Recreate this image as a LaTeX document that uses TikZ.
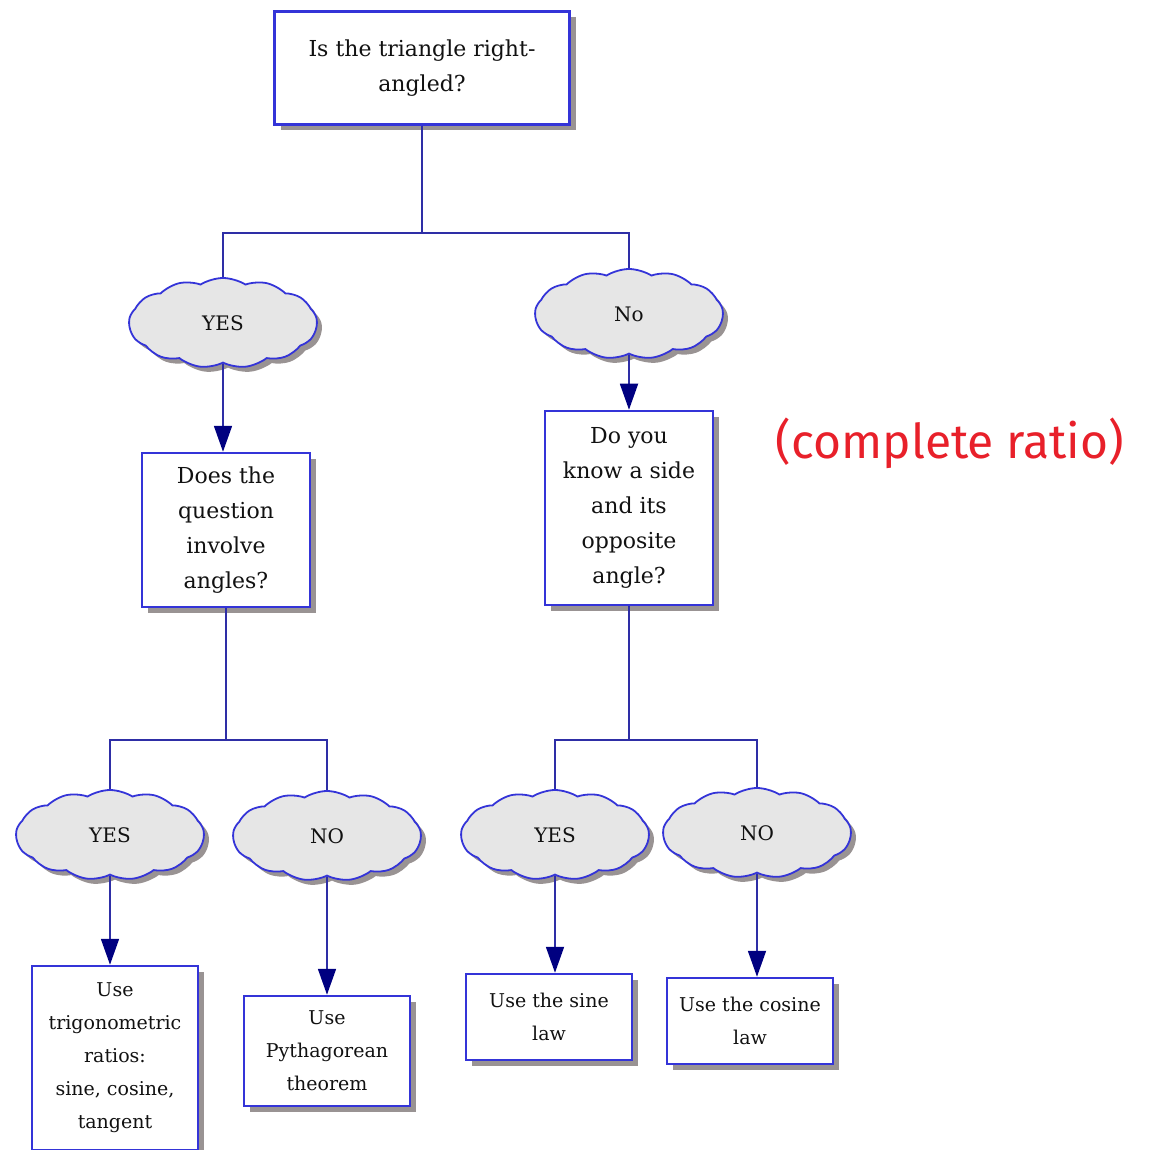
\documentclass[tikz,border=0pt]{standalone}
\usepackage{fontspec}
\setmainfont{DejaVu Serif}
\newfontfamily\handfont{Fira Sans}
\usepackage{tikz}
\usetikzlibrary{positioning, arrows.meta, shapes.symbols, shadows}
\definecolor{fLine}{HTML}{2E2EA6}
\definecolor{fBorder}{HTML}{3434D8}
\definecolor{fTip}{HTML}{000080}
\definecolor{fCloud}{HTML}{E6E6E6}
\definecolor{fShadow}{HTML}{807878}
\definecolor{fInk}{HTML}{111111}
\definecolor{fRed}{HTML}{E8202A}

\begin{document}
\begin{tikzpicture}[x=1pt, y=-1pt,
          qbox/.style={draw=fBorder, line width=2.5pt, fill=white, text=fInk, align=center,
            inner sep=0pt, font=\fontsize{22}{35}\selectfont,
            drop shadow={shadow xshift=6pt, shadow yshift=-6pt, fill=fShadow, opacity=0.8}},
          abox/.style={qbox, font=\fontsize{19}{33}\selectfont, minimum width=166pt},
          ans/.style={cloud, cloud puffs=13, cloud puff arc=65, draw=fBorder, line width=1.8pt,
            fill=fCloud, text=fInk, inner sep=0pt, font=\fontsize{20}{24}\selectfont,
            minimum width=188pt, minimum height=90pt,
            drop shadow={shadow xshift=5pt, shadow yshift=-5pt, fill=fShadow, opacity=0.8}},
          link/.style={draw=fLine, line width=1.8pt},
          arr/.style={link, -{Triangle[length=26pt, width=18pt, fill=fTip, color=fTip]}}]
        \useasboundingbox (0,0) rectangle (1160,1150);
        % questions
        \node[qbox, minimum width=295pt, minimum height=113pt] (right) at (422,68) {Is the triangle right-\\angled?};
        \node[qbox, minimum width=168pt, minimum height=154pt] (angles) at (226,530) {Does the\\question\\involve\\angles?};
        \node[qbox, minimum width=168pt, minimum height=194pt] (opp) at (629,508) {Do you\\know a side\\and its\\opposite\\angle?};
        % answers
        \node[ans] (yesA) at (223,323) {YES};
        \node[ans] (noA) at (629,314) {No};
        \node[ans] (yesB) at (110,835) {YES};
        \node[ans] (noB) at (327,836) {NO};
        \node[ans] (yesC) at (555,835) {YES};
        \node[ans] (noC) at (757,833) {NO};
        % what to use
        \node[abox, minimum height=184pt] (trig) at (115,1058) {Use\\trigonometric\\ratios:\\sine, cosine,\\tangent};
        \node[abox, minimum height=110pt] (pyth) at (327,1051) {Use\\Pythagorean\\theorem};
        \node[abox, minimum height=86pt] (sine) at (549,1017) {Use the sine\\law};
        \node[abox, minimum height=86pt] (cosine) at (750,1021) {Use the cosine\\law};
        \node[font=\handfont\fontsize{48}{50}\selectfont, text=fRed] (note) at (950,443) {(complete ratio)};
        % branches
        \coordinate (j1) at (422,233);
        \coordinate (j2) at (226,740);
        \coordinate (j3) at (629,740);
        \draw[link] (right.south) -- (j1);
        \draw[link] (yesA.north) |- (j1) -| (noA.north);
        \draw[link] (angles.south) -- (j2);
        \draw[link] (yesB.north) |- (j2) -| (noB.north);
        \draw[link] (opp.south) -- (j3);
        \draw[link] (yesC.north) |- (j3) -| (noC.north);
        \draw[arr] (yesA.south) -- (yesA.south |- angles.north);
        \draw[arr] (noA.south) -- (noA.south |- opp.north);
        \draw[arr] (yesB.south) -- (yesB.south |- trig.north);
        \draw[arr] (noB.south) -- (noB.south |- pyth.north);
        \draw[arr] (yesC.south) -- (yesC.south |- sine.north);
        \draw[arr] (noC.south) -- (noC.south |- cosine.north);
      \end{tikzpicture}
\end{document}
